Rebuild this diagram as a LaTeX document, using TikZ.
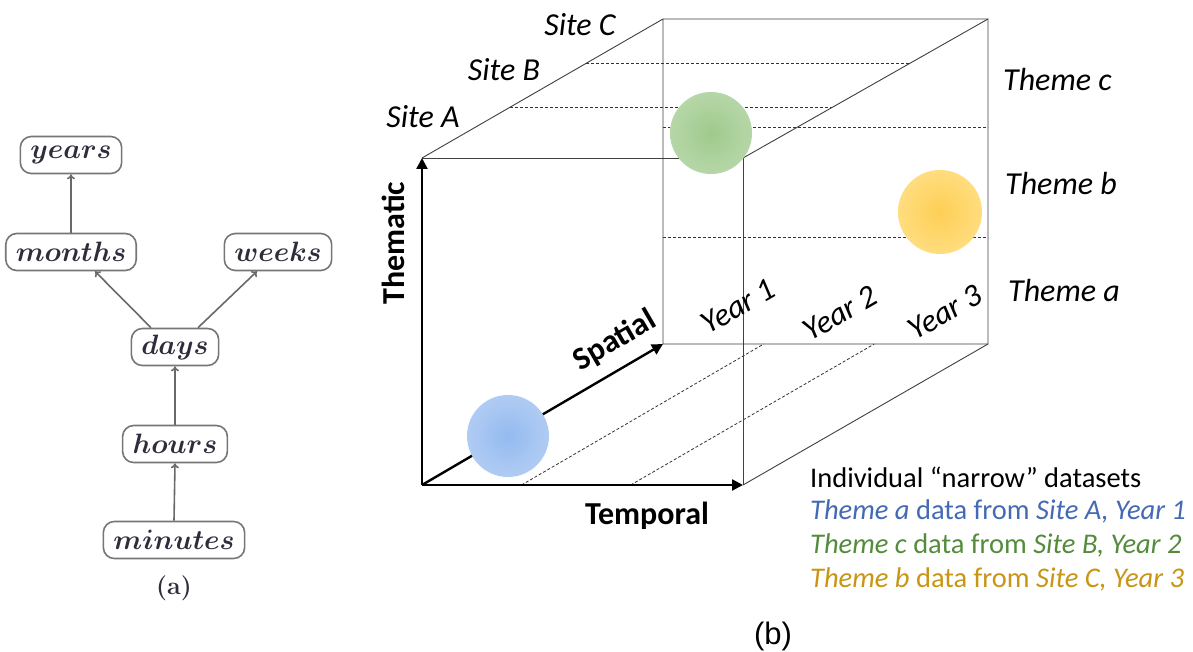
\RequirePackage{fix-cm}
\documentclass[tikz,border=0pt]{standalone}
\usepackage{fontspec}
\newfontfamily\carl{Carlito}
\newfontfamily\arl{Liberation Sans}
\usetikzlibrary{arrows.meta,calc}
\definecolor{legblue}{RGB}{68,106,180}
\definecolor{leggreen}{RGB}{84,140,60}
\definecolor{leggold}{RGB}{200,150,20}
\definecolor{boxgray}{RGB}{118,118,118}
\definecolor{arrgray}{RGB}{105,105,105}
\definecolor{atext}{RGB}{45,45,60}
\pgfdeclareradialshading{bluesh}{\pgfpoint{0bp}{0bp}}{rgb(0bp)=(0.58,0.73,0.94);rgb(18bp)=(0.66,0.78,0.95);rgb(38bp)=(0.74,0.83,0.96);rgb(50bp)=(0.78,0.85,0.97)}
\pgfdeclareradialshading{greensh}{\pgfpoint{0bp}{0bp}}{rgb(0bp)=(0.62,0.79,0.55);rgb(18bp)=(0.69,0.83,0.63);rgb(38bp)=(0.75,0.86,0.70);rgb(50bp)=(0.78,0.88,0.73)}
\pgfdeclareradialshading{yellowsh}{\pgfpoint{0bp}{0bp}}{rgb(0bp)=(0.99,0.81,0.33);rgb(18bp)=(1.0,0.85,0.45);rgb(38bp)=(1.0,0.89,0.58);rgb(50bp)=(1.0,0.91,0.63)}
\tikzset{
  tbox/.style={draw=boxgray, line width=1.6pt, rounded corners=11pt, inner xsep=10pt, inner ysep=0pt,
    minimum height=37pt, text=atext, font=\fontsize{28}{34}\selectfont\boldmath},
  tarr/.style={draw=arrgray, line width=1.6pt, -{To[length=5pt,width=8pt]}},
  cubeedge/.style={draw=black!75, line width=0.9pt},
  dashln/.style={draw=black!80, line width=0.8pt, dash pattern=on 3pt off 2pt},
  axisarr/.style={draw=black, line width=2.4pt, -{Triangle[length=11pt,width=11pt]}},
  lbl/.style={font=\carl\itshape\fontsize{32}{38}\selectfont, inner sep=0pt},
  axlbl/.style={font=\carl\bfseries\fontsize{32}{38}\selectfont, inner sep=0pt},
  leg/.style={font=\carl\fontsize{28.5}{34}\selectfont, anchor=west, inner sep=0pt}
}
\begin{document}
\begin{tikzpicture}[x=1pt,y=-1pt]
\useasboundingbox (0,0) rectangle (1193,652);
\fill[white] (0,0) rectangle (1193,652);

% ---------- (a) ----------
\node[tbox] (years) at (71,155) {$years$};
\node[tbox] (months) at (71,252) {$months$};
\node[tbox] (weeks) at (278,252) {$weeks$};
\node[tbox] (days) at (175,347) {$days$};
\node[tbox] (hours) at (175,444) {$hours$};
\node[tbox] (minutes) at (174,540) {$minutes$};
\node[font=\bfseries\fontsize{25}{30}\selectfont, text=atext, inner sep=0pt] (capa) at (174,588) {(a)};

\draw[tarr] (months.north) -- (years.south);
\draw[tarr] ($(days.north)+(-24,0)$) -- ($(months.south)+(24,0)$);
\draw[tarr] ($(days.north)+(23,0)$) -- ($(weeks.south)+(-21,0)$);
\draw[tarr] (hours.north) -- (days.south);
\draw[tarr] (minutes.north) -- (hours.south);

% ---------- (b) cube ----------
\coordinate (O) at (422,485);
\coordinate (FTL) at (422,158);
\coordinate (FTR) at (743,158);
\coordinate (FBR) at (743,485);
\coordinate (BTL) at (663,19);
\coordinate (BTR) at (988,19);
\coordinate (BBL) at (663,344);
\coordinate (BBR) at (988,344);

% dashed grid
\draw[dashln] ($(FTL)!0.365!(BTL)$) -- ($(FTR)!0.365!(BTR)$);
\draw[dashln] ($(FTL)!0.68!(BTL)$) -- ($(FTR)!0.68!(BTR)$);
\draw[dashln] ($(BTL)!0.335!(BBL)$) -- ($(BTR)!0.335!(BBR)$);
\draw[dashln] ($(BTL)!0.672!(BBL)$) -- ($(BTR)!0.672!(BBR)$);
\draw[dashln] ($(O)!0.31!(FBR)$) -- ($(BBL)!0.31!(BBR)$);
\draw[dashln] ($(O)!0.65!(FBR)$) -- ($(BBL)!0.65!(BBR)$);

% edges
\draw[cubeedge] (FTL) -- (FTR) -- (FBR);
\draw[cubeedge] (FTL) -- (BTL) -- (BTR) -- (BBR) -- (BBL) -- (BTL);
\draw[cubeedge] (FTR) -- (BTR);
\draw[cubeedge] (FBR) -- (BBR);

% axes
\draw[axisarr] (O) -- (FTL);
\draw[axisarr] (O) -- (FBR);
\draw[axisarr] (O) -- (BBL);

% data blobs
\shade[shading=greensh] (711,133) circle (41);
\shade[shading=yellowsh] (940,212) circle (42);
\shade[shading=bluesh] (508,436) circle (41);

% labels
\node[lbl] (sitec) at (580,25) {Site C};
\node[lbl] (siteb) at (504,70) {Site B};
\node[lbl] (sitea) at (423,117) {Site A};
\node[lbl, anchor=west] (themec) at (1003,80) {Theme c};
\node[lbl, anchor=west] (themeb) at (1005,184) {Theme b};
\node[lbl, anchor=west] (themea) at (1008,290) {Theme a};
\node[lbl, rotate=30] (year1) at (738,306) {Year 1};
\node[lbl, rotate=30] (year2) at (840,313) {Year 2};
\node[lbl, rotate=30] (year3) at (945,312) {Year 3};
\node[axlbl, rotate=90] (thematic) at (393,243) {Thematic};
\node[axlbl, rotate=30] (spatial) at (615,341) {Spatial};
\node[axlbl] (temporal) at (647,516) {Temporal};

% legend
\node[leg] (l0) at (810,477) {Individual “narrow” datasets};
\node[leg, text=legblue] (l1) at (810,511) {\itshape Theme a\upshape{} data from \itshape Site A, Year 1};
\node[leg, text=leggreen] (l2) at (810,545) {\itshape Theme c\upshape{} data from \itshape Site B, Year 2};
\node[leg, text=leggold] (l3) at (810,579) {\itshape Theme b\upshape{} data from \itshape Site C, Year 3};

\node[font=\arl\fontsize{31}{36}\selectfont, inner sep=0pt] (capb) at (773,636) {(b)};
\end{tikzpicture}
\end{document}
